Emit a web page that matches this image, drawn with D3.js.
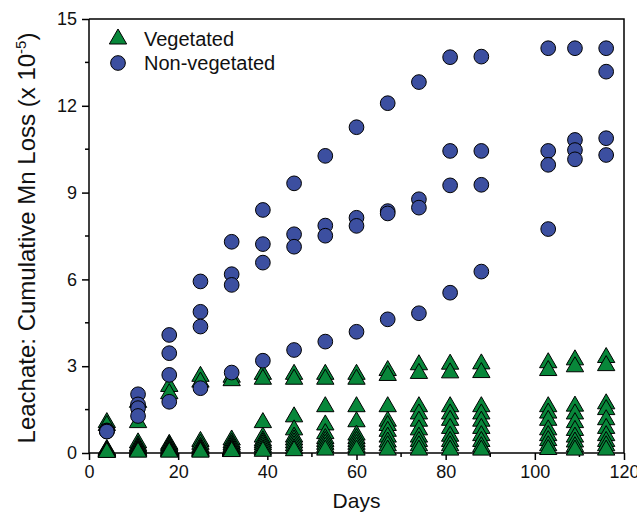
<!DOCTYPE html>
<html>
<head>
<meta charset="utf-8">
<script src="https://cdn.jsdelivr.net/npm/d3@7"></script>
<style>
  body { margin: 0; background: #fff; }
  text { font-family: "Liberation Sans", Arial, sans-serif; }
</style>
</head>
<body>
<div id="chart"></div>
<script>
const days = [4, 11, 18, 25, 32, 39, 46, 53, 60, 67, 74, 81, 88, 103, 109, 116];

// Non-vegetated, 4 replicates
const nonVeg = [
    [0.78, 2.03, 4.08, 5.93, 7.30, 8.40, 9.32, 10.27, 11.26, 12.09, 12.82, 13.68, 13.70, 13.99, 13.99, 13.99],
    [0.76, 1.68, 3.45, 4.88, 6.18, 7.22, 7.56, 7.86, 8.13, 8.36, 8.77, 10.44, 10.44, 10.44, 10.82, 13.18],
    [0.75, 1.55, 2.70, 4.37, 5.81, 6.58, 7.13, 7.51, 7.85, 8.28, 8.48, 9.25, 9.27, 9.96, 10.47, 10.88],
    [0.74, 1.28, 1.77, 2.24, 2.78, 3.19, 3.56, 3.85, 4.19, 4.62, 4.83, 5.54, 6.27, 7.74, 10.15, 10.30]
];

// Vegetated, 10 replicates
const veg = [
    [1.05, 1.75, 2.30, 2.65, 2.62, 2.72, 2.72, 2.72, 2.72, 2.85, 3.05, 3.07, 3.08, 3.12, 3.22, 3.30],
    [0.95, 1.05, 2.05, 2.45, 2.50, 2.55, 2.55, 2.55, 2.55, 2.68, 2.75, 2.77, 2.78, 2.85, 2.98, 3.02],
    [0.12, 0.35, 0.30, 0.40, 0.45, 1.05, 1.25, 1.60, 1.60, 1.60, 1.60, 1.60, 1.60, 1.60, 1.62, 1.70],
    [0.10, 0.25, 0.25, 0.30, 0.35, 0.55, 0.80, 0.97, 1.08, 1.10, 1.35, 1.35, 1.35, 1.38, 1.35, 1.50],
    [0.08, 0.20, 0.20, 0.20, 0.28, 0.42, 0.55, 0.67, 0.62, 0.95, 1.10, 1.13, 1.10, 1.13, 1.05, 1.15],
    [0.06, 0.15, 0.15, 0.15, 0.22, 0.35, 0.45, 0.50, 0.50, 0.75, 0.80, 0.85, 0.85, 0.80, 0.78, 0.85],
    [0.05, 0.10, 0.10, 0.10, 0.16, 0.28, 0.35, 0.40, 0.40, 0.55, 0.55, 0.58, 0.60, 0.60, 0.55, 0.60],
    [0.04, 0.08, 0.08, 0.08, 0.12, 0.20, 0.25, 0.30, 0.30, 0.38, 0.40, 0.40, 0.40, 0.43, 0.38, 0.40],
    [0.03, 0.05, 0.05, 0.05, 0.08, 0.12, 0.15, 0.20, 0.20, 0.25, 0.25, 0.25, 0.22, 0.25, 0.22, 0.25],
    [0.02, 0.03, 0.03, 0.03, 0.05, 0.06, 0.08, 0.10, 0.10, 0.10, 0.10, 0.10, 0.10, 0.12, 0.10, 0.10]
];

const xTicks = [0, 20, 40, 60, 80, 100, 120];
const yTicks = [0, 3, 6, 9, 12, 15];
const seriesNames = ["Vegetated", "Non-vegetated"];

const W = 637, H = 518;
const mLeft = 89, mRight = 624, mTop = 19, mBottom = 453;

const svg = d3.select("#chart").append("svg")
    .attr("width", W)
    .attr("height", H);

const x = d3.scaleLinear().domain([0, 120]).range([mLeft, mRight]);
const y = d3.scaleLinear().domain([0, 15]).range([mBottom, mTop]);

const greenFill = "#08873a";
const blueFill = "#3c4fa0";

// frame top/right
svg.append("path")
    .attr("d", `M${mLeft},${mTop}H${mRight}V${mBottom}`)
    .attr("fill", "none")
    .attr("stroke", "black")
    .attr("stroke-width", 1.5);

// minor ticks
const xMinor = d3.range(10, 120, 20);
const yMinor = d3.range(1.5, 15, 3);

const xAxis = svg.append("g")
    .attr("transform", `translate(0,${mBottom})`)
    .call(d3.axisBottom(x).tickValues(xTicks).tickSize(7).tickPadding(5).tickFormat(d3.format("d")));
xAxis.append("g").selectAll("line")
    .data(xMinor)
    .join("line")
    .attr("x1", d => x(d)).attr("x2", d => x(d))
    .attr("y1", 0).attr("y2", 4)
    .attr("stroke", "black").attr("stroke-width", 1.5);

const yAxis = svg.append("g")
    .attr("transform", `translate(${mLeft},0)`)
    .call(d3.axisLeft(y).tickValues(yTicks).tickSize(7).tickPadding(5).tickFormat(d3.format("d")));
yAxis.append("g").selectAll("line")
    .data(yMinor)
    .join("line")
    .attr("y1", d => y(d)).attr("y2", d => y(d))
    .attr("x1", 0).attr("x2", -4)
    .attr("stroke", "black").attr("stroke-width", 1.5);

[xAxis, yAxis].forEach(g => {
    g.select(".domain").attr("stroke-width", 1.5).attr("d",
        g === xAxis ? `M${mLeft},0H${mRight}` : `M0,${mTop}V${mBottom}`);
    g.selectAll(".tick line").attr("stroke-width", 1.5);
    g.selectAll(".tick text")
        .attr("font-size", "18px")
        .attr("fill", "#111")
        .style("font-family", "'Liberation Sans', Arial, sans-serif");
});

// axis titles
svg.append("text")
    .attr("x", (mLeft + mRight) / 2)
    .attr("y", 508)
    .attr("text-anchor", "middle")
    .attr("font-size", "21px")
    .attr("fill", "#111")
    .text("Days");

const yt = svg.append("text")
    .attr("transform", "translate(35,238) rotate(-90)")
    .attr("text-anchor", "middle")
    .attr("font-size", "24px")
    .attr("fill", "#111");
yt.append("tspan").text("Leachate: Cumulative Mn Loss (x 10");
yt.append("tspan").attr("dy", -9).attr("font-size", "15px").text("-5");
yt.append("tspan").attr("dy", 9).text(")");

// markers
const tri = d3.symbol().type(d3.symbolTriangle).size(130);
const circ = d3.symbol().type(d3.symbolCircle).size(170);

const vegPts = veg.flatMap(rep => rep.map((v, i) => ({day: days[i], v})));
const nonPts = nonVeg.flatMap(rep => rep.map((v, i) => ({day: days[i], v})));

svg.append("g").selectAll("path")
    .data(vegPts)
    .join("path")
    .attr("d", tri)
    .attr("transform", d => `translate(${x(d.day)},${y(d.v)})`)
    .attr("fill", greenFill)
    .attr("stroke", "black")
    .attr("stroke-width", 1);

svg.append("g").selectAll("path")
    .data(nonPts)
    .join("path")
    .attr("d", circ)
    .attr("transform", d => `translate(${x(d.day)},${y(d.v)})`)
    .attr("fill", blueFill)
    .attr("stroke", "black")
    .attr("stroke-width", 1);

// legend
const legend = svg.append("g");
const legendY = [39, 63];
seriesNames.forEach((name, i) => {
    legend.append("path")
        .attr("d", i === 0 ? tri() : circ())
        .attr("transform", `translate(118,${legendY[i]})`)
        .attr("fill", i === 0 ? greenFill : blueFill)
        .attr("stroke", "black")
        .attr("stroke-width", 1);
    legend.append("text")
        .attr("x", 144)
        .attr("y", legendY[i] + 7)
        .attr("font-size", "20px")
        .attr("fill", "#111")
        .text(name);
});
</script>
</body>
</html>
